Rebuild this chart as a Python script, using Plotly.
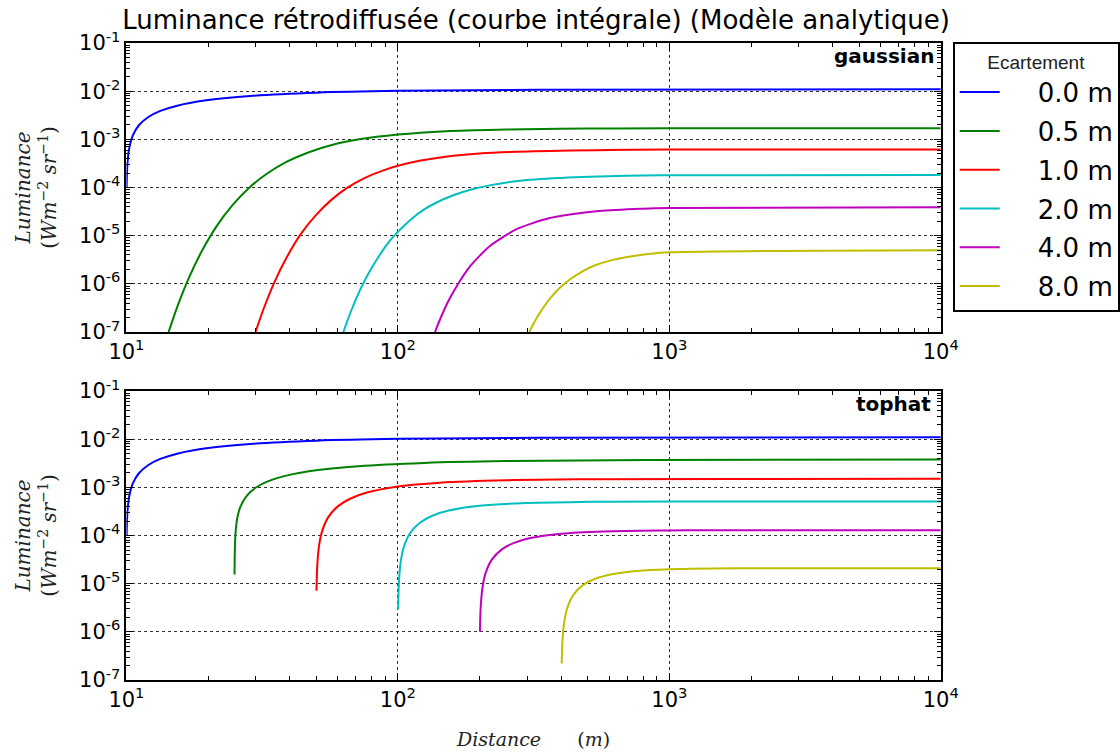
import plotly.graph_objects as go
from plotly.subplots import make_subplots

# ---------------- data ----------------
legend_labels = ["0.0 m", "0.5 m", "1.0 m", "2.0 m", "4.0 m", "8.0 m"]
line_colors = ["#0000ff", "#008000", "#ff0000", "#00bfbf", "#bf00bf", "#bfbf00"]

# gaussian profile (top panel)
g00_x = [10.02, 10.03, 10.1, 10.26, 10.53, 11.11, 12.05, 13.33, 15.38, 20, 28.57, 50, 100, 333, 10000]
g00_y = [1.0e-4, 1.41e-4, 3.48e-4, 6.9e-4, 1.16e-3, 1.96e-3, 2.91e-3, 3.89e-3, 5.0e-3, 6.54e-3, 7.96e-3, 9.31e-3, 1.016e-2, 1.075e-2, 1.1e-2]
g05_x = [14.3, 15.5, 17, 19, 21.5, 24.5, 28.4, 33, 39, 47, 58, 72, 100, 150, 250, 500, 1000, 10000]
g05_y = [1e-7, 3.7e-7, 1.35e-6, 4.9e-6, 1.58e-5, 4.2e-5, 1.0e-4, 1.95e-4, 3.43e-4, 5.4e-4, 7.8e-4, 1.0e-3, 1.26e-3, 1.48e-3, 1.6e-3, 1.675e-3, 1.69e-3, 1.7e-3]
g10_x = [29.9, 32, 35, 39, 44, 50, 57, 65, 75, 88, 100, 120, 150, 200, 300, 600, 1000, 10000]
g10_y = [1e-7, 3.0e-7, 1.05e-6, 3.6e-6, 1.1e-5, 2.7e-5, 5.6e-5, 9.8e-5, 1.55e-4, 2.24e-4, 2.82e-4, 3.59e-4, 4.37e-4, 5.07e-4, 5.6e-4, 6.0e-4, 6.12e-4, 6.17e-4]
g20_x = [63, 67, 72, 78, 85, 93, 100, 112, 125, 140, 160, 185, 220, 280, 400, 700, 1000, 10000]
g20_y = [1e-7, 2.6e-7, 6.8e-7, 1.66e-6, 3.7e-6, 7.6e-6, 1.2e-5, 2.2e-5, 3.5e-5, 5.0e-5, 6.9e-5, 9.0e-5, 1.12e-4, 1.38e-4, 1.58e-4, 1.75e-4, 1.79e-4, 1.82e-4]
g40_x = [137, 145, 155, 167, 182, 200, 220, 245, 275, 310, 360, 430, 550, 800, 1000, 10000]
g40_y = [1e-7, 2.2e-7, 4.9e-7, 1.02e-6, 2.1e-6, 3.8e-6, 6.3e-6, 9.5e-6, 1.38e-5, 1.78e-5, 2.3e-5, 2.75e-5, 3.24e-5, 3.63e-5, 3.76e-5, 3.9e-5]
g80_x = [305, 320, 340, 365, 395, 430, 475, 530, 600, 700, 850, 1000, 10000]
g80_y = [1e-7, 1.7e-7, 2.95e-7, 5.1e-7, 8.3e-7, 1.23e-6, 1.78e-6, 2.4e-6, 3.0e-6, 3.6e-6, 4.2e-6, 4.5e-6, 5.0e-6]

# tophat profile (bottom panel)
t00_x = [10.02, 10.03, 10.1, 10.26, 10.53, 11.11, 12.05, 13.33, 15.38, 20, 28.57, 50, 100, 333, 10000]
t00_y = [1.0e-4, 1.41e-4, 3.48e-4, 6.9e-4, 1.16e-3, 1.96e-3, 2.91e-3, 3.89e-3, 5.0e-3, 6.54e-3, 7.96e-3, 9.31e-3, 1.016e-2, 1.075e-2, 1.1e-2]
t05_x = [25.02, 25.08, 25.25, 25.64, 26.32, 27.78, 30.12, 33.33, 38.46, 50, 71.43, 125, 250, 833, 10000]
t05_y = [1.55e-5, 4.88e-5, 1.2e-4, 2.39e-4, 4.02e-4, 6.76e-4, 1.006e-3, 1.344e-3, 1.729e-3, 2.26e-3, 2.75e-3, 3.21e-3, 3.51e-3, 3.71e-3, 3.79e-3]
t10_x = [50.14, 50.5, 51.28, 52.63, 55.56, 60.24, 66.67, 76.92, 100, 142.9, 250, 500, 1667, 10000]
t10_y = [7.1e-6, 2.54e-5, 6.32e-5, 1.25e-4, 2.46e-4, 4.07e-4, 5.8e-4, 7.79e-4, 1.038e-3, 1.248e-3, 1.403e-3, 1.47e-3, 1.496e-3, 1.5e-3]
t20_x = [100.24, 100.3, 101.01, 102.56, 105.26, 111.11, 120.48, 133.33, 153.85, 200, 285.7, 500, 1000, 10000]
t20_y = [2.9e-6, 3.67e-6, 1.215e-5, 3.0e-5, 5.9e-5, 1.14e-4, 1.84e-4, 2.54e-4, 3.29e-4, 4.13e-4, 4.69e-4, 4.99e-4, 5.08e-4, 5.1e-4]
t40_x = [200.6, 202.02, 205.13, 210.53, 222.22, 240.96, 266.67, 307.69, 400, 571.4, 1000, 2000, 10000]
t40_y = [1.0e-6, 3.45e-6, 8.52e-6, 1.67e-5, 3.19e-5, 5.1e-5, 6.97e-5, 8.87e-5, 1.091e-4, 1.214e-4, 1.273e-4, 1.288e-4, 1.29e-4]
t80_x = [401.3, 404.04, 410.26, 421.05, 444.44, 481.93, 533.33, 615.38, 800, 1142.9, 2000, 10000]
t80_y = [2.2e-7, 6.65e-7, 1.634e-6, 3.18e-6, 6.01e-6, 9.43e-6, 1.264e-5, 1.571e-5, 1.872e-5, 2.027e-5, 2.088e-5, 2.1e-5]

gauss_series = [(g00_x, g00_y), (g05_x, g05_y), (g10_x, g10_y), (g20_x, g20_y), (g40_x, g40_y), (g80_x, g80_y)]
tophat_series = [(t00_x, t00_y), (t05_x, t05_y), (t10_x, t10_y), (t20_x, t20_y), (t40_x, t40_y), (t80_x, t80_y)]

x_tick_vals = [10, 100, 1000, 10000]
x_tick_text = ["10<sup>1</sup>", "10<sup>2</sup>", "10<sup>3</sup>", "10<sup>4</sup>"]
y_tick_vals = [1e-7, 1e-6, 1e-5, 1e-4, 1e-3, 1e-2, 1e-1]
y_tick_text = ["10<sup>-7</sup>", "10<sup>-6</sup>", "10<sup>-5</sup>", "10<sup>-4</sup>",
               "10<sup>-3</sup>", "10<sup>-2</sup>", "10<sup>-1</sup>"]

title_text = "Luminance rétrodiffusée (courbe intégrale) (Modèle analytique)"
panel_names = ["gaussian", "tophat"]
legend_title = "Ecartement"
y_title = "<i>Luminance</i><br>(<i>Wm</i><sup>\u22122</sup>\u00a0<i>sr</i><sup>\u22121</sup>)"
x_title = "<i>Distance</i>\u00a0\u00a0\u00a0\u00a0\u00a0\u00a0(<i>m</i>)"
legend_pad = "\u00a0\u00a0\u00a0\u00a0"

# ---------------- figure ----------------
fig = make_subplots(rows=2, cols=1)

for i, ((gx, gy), (tx, ty)) in enumerate(zip(gauss_series, tophat_series)):
    fig.add_trace(go.Scatter(x=gx, y=gy, mode="lines", name=legend_pad + legend_labels[i],
                             legendgroup=legend_labels[i],
                             line=dict(color=line_colors[i], width=2, shape="spline",
                                       smoothing=1.0, simplify=False)),
                  row=1, col=1)
    fig.add_trace(go.Scatter(x=tx, y=ty, mode="lines", name=legend_pad + legend_labels[i],
                             legendgroup=legend_labels[i], showlegend=False,
                             line=dict(color=line_colors[i], width=2, shape="spline",
                                       smoothing=1.0, simplify=False)),
                  row=2, col=1)

minor_x = [m * 10 ** k for k in range(1, 4) for m in range(2, 10)]
minor_y = [m * 10.0 ** k for k in range(-7, -1) for m in range(2, 10)]

common = dict(showline=True, linecolor="black", linewidth=1.5, mirror="ticks",
              ticks="inside", ticklen=7, tickwidth=1, tickcolor="black",
              showgrid=True, gridcolor="#333333", griddash="dot", gridwidth=1,
              zeroline=False, tickfont=dict(family="DejaVu Sans", size=21, color="black"),
              automargin=False)

for ax in ["xaxis", "xaxis2"]:
    fig.layout[ax].update(type="log", range=[1, 4], tickmode="array",
                          tickvals=x_tick_vals, ticktext=x_tick_text,
                          minor=dict(tickmode="array", tickvals=minor_x, ticks="inside",
                                     ticklen=4, tickcolor="black", showgrid=False),
                          **common)
for ax in ["yaxis", "yaxis2"]:
    fig.layout[ax].update(type="log", range=[-7, -1], tickmode="array",
                          tickvals=y_tick_vals, ticktext=y_tick_text,
                          minor=dict(tickmode="array", tickvals=minor_y, ticks="inside",
                                     ticklen=4, tickcolor="black", showgrid=False),
                          title=dict(text=y_title,
                                     font=dict(family="DejaVu Serif", size=20, color="#222"),
                                     standoff=17),
                          **common)

x0, x1 = 127 / 1120, 945 / 1120
fig.layout.xaxis.domain = [x0, x1]
fig.layout.xaxis2.domain = [x0, x1]
fig.layout.yaxis.domain = [1 - 332 / 752, 1 - 43 / 752]
fig.layout.yaxis2.domain = [1 - 680 / 752, 1 - 391 / 752]
fig.layout.xaxis2.title = dict(text=x_title,
                               font=dict(family="DejaVu Serif", size=19, color="#222"), standoff=22)

fig.add_annotation(text="<b>" + panel_names[0] + "</b>", xref="paper", yref="paper", x=940 / 1120, y=1 - 56 / 752,
                   xanchor="right", yanchor="middle", showarrow=False,
                   font=dict(family="DejaVu Sans", size=20, color="black"))
fig.add_annotation(text="<b>" + panel_names[1] + "</b>", xref="paper", yref="paper", x=937 / 1120, y=1 - 404 / 752,
                   xanchor="right", yanchor="middle", showarrow=False,
                   font=dict(family="DejaVu Sans", size=20, color="black"))

fig.update_layout(
    width=1120, height=752,
    margin=dict(l=0, r=0, t=0, b=0),
    paper_bgcolor="white", plot_bgcolor="white",
    title=dict(text=title_text, x=536 / 1120, xanchor="center", y=1 - 20 / 752, yanchor="middle",
               font=dict(family="DejaVu Sans", size=26, color="black")),
    legend=dict(x=957 / 1120, y=1 - 42 / 752, xanchor="left", yanchor="top",
                bordercolor="black", borderwidth=2, bgcolor="white",
                font=dict(family="DejaVu Sans", size=26, color="black"),
                title=dict(text=legend_title, side="top center",
                           font=dict(family="Liberation Sans", size=19, color="#222")),
                traceorder="grouped", tracegroupgap=2, itemwidth=40),
    showlegend=True,
)

fig.write_html("out.html", config={"displayModeBar": False},
               post_script="document.body.style.margin='0px';")
